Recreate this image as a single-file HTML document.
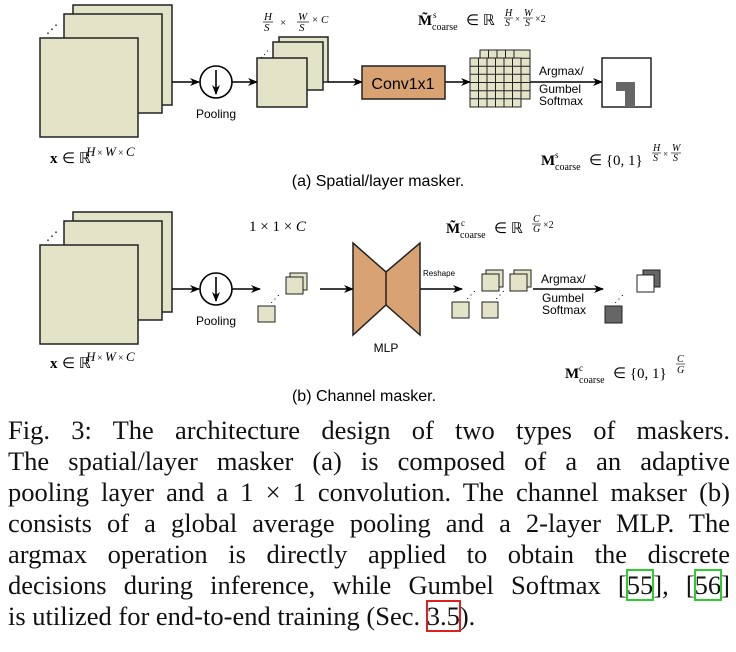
<!DOCTYPE html>
<html><head><meta charset="utf-8"><style>
body{margin:0;background:#fff;width:736px;height:652px;overflow:hidden;position:relative}
svg{position:absolute;left:0;top:0}
.cap{position:absolute;left:8px;top:415px;width:722px;font-family:"Liberation Serif",serif;font-size:26.5px;line-height:31px;color:#111}
.cap div{text-align:justify;text-align-last:justify;white-space:nowrap}
.cap div.l{text-align-last:left}
.g{outline:2px solid #2ecc2e;outline-offset:-1px}
.r{outline:2px solid #e02020;outline-offset:-1px}
</style></head><body>
<svg width="736" height="410" viewBox="0 0 736 410" font-family="Liberation Sans, sans-serif">
<defs><marker id="a" markerWidth="10" markerHeight="8" refX="9" refY="4" orient="auto" markerUnits="userSpaceOnUse"><path d="M0,0 L10,4 L0,8 L3,4z" fill="#000"/></marker></defs>
<g fill="#e3e3c8" stroke="#222" stroke-width="1.5">
<rect x="73" y="5" width="99" height="100"/><rect x="64" y="14" width="98" height="99"/><rect x="40" y="38" width="98" height="99"/>
<rect x="279" y="37" width="49" height="45"/><rect x="273" y="42" width="50" height="48"/><rect x="257" y="58" width="50" height="49"/>
</g>
<text x="46" y="33" font-size="12">⋰</text><text x="260" y="57" font-size="9">⋰</text>
<g stroke="#000" stroke-width="1.6" fill="none">
<line x1="172" y1="82" x2="199" y2="82" marker-end="url(#a)"/>
<circle cx="216" cy="82" r="16" fill="#fff"/>
<line x1="216" y1="70" x2="216" y2="94" marker-end="url(#a)"/>
<line x1="232" y1="82" x2="257" y2="82" marker-end="url(#a)"/>
<line x1="328" y1="82" x2="362" y2="82" marker-end="url(#a)"/>
<line x1="445" y1="82" x2="470" y2="82" marker-end="url(#a)"/>
<line x1="530" y1="82" x2="602" y2="82" marker-end="url(#a)"/>
</g>
<text x="216" y="118" font-size="12" text-anchor="middle">Pooling</text>
<rect x="362" y="66" width="83" height="33" fill="#d9a272" stroke="#222" stroke-width="1.5"/>
<text x="403" y="89" font-size="16" text-anchor="middle">Conv1x1</text>
<g fill="#e3e3c8" stroke="#222" stroke-width="1">
<rect x="480" y="50" width="50" height="49"/><rect x="470" y="58" width="51" height="49"/>
</g>
<g stroke="#222" stroke-width="1">
<path d="M478.5,58V107M487,58V107M495.5,58V107M504,58V107M512.5,58V107M470,66.2H521M470,74.3H521M470,82.5H521M470,90.7H521M470,98.8H521"/>
<path d="M488.5,50V58M497,50V58M505.5,50V58M514,50V58M521,58.2H530M521,66.2H530M521,74.3H530M521,82.5H530M521,90.7H530"/>
</g>
<text x="539" y="75" font-size="12">Argmax/</text><text x="539" y="93" font-size="12">Gumbel</text><text x="539" y="105" font-size="12">Softmax</text>
<rect x="602" y="58" width="49" height="49" fill="#fff" stroke="#222" stroke-width="1.5"/>
<path d="M616,82H635V107H625V91H616z" fill="#666"/>
<g font-family="Liberation Serif, serif" font-size="15">
<text x="264" y="20" font-style="italic" font-size="11">H</text><line x1="263" y1="22" x2="273" y2="22" stroke="#000" stroke-width=".7"/><text x="264" y="31" font-style="italic" font-size="11">S</text>
<text x="280" y="26" font-size="11">×</text>
<text x="298" y="20" font-style="italic" font-size="11">W</text><line x1="297" y1="22" x2="309" y2="22" stroke="#000" stroke-width=".7"/><text x="299" y="31" font-style="italic" font-size="11">S</text>
<text x="312" y="23" font-size="11">× <tspan font-style="italic">C</tspan></text>
<text x="418" y="25" font-weight="bold">M̃</text><text x="433" y="18" font-size="9">s</text><text x="432" y="30" font-size="10">coarse</text><text x="466" y="25">∈ ℝ</text>
<text x="505" y="16" font-style="italic" font-size="10">H</text><line x1="504" y1="18" x2="513" y2="18" stroke="#000" stroke-width=".6"/><text x="505" y="26" font-style="italic" font-size="10">S</text>
<text x="515" y="22" font-size="9">×</text>
<text x="524" y="16" font-style="italic" font-size="10">W</text><line x1="523" y1="18" x2="533" y2="18" stroke="#000" stroke-width=".6"/><text x="525" y="26" font-style="italic" font-size="10">S</text>
<text x="535" y="22" font-size="10">×2</text>
<text x="541" y="165" font-weight="bold">M</text><text x="555" y="158" font-size="9">s</text><text x="555" y="170" font-size="10">coarse</text><text x="589" y="165">∈ {0, 1}</text>
<text x="653" y="151" font-style="italic" font-size="10">H</text><line x1="652" y1="153" x2="661" y2="153" stroke="#000" stroke-width=".6"/><text x="653" y="161" font-style="italic" font-size="10">S</text>
<text x="663" y="157" font-size="9">×</text>
<text x="672" y="151" font-style="italic" font-size="10">W</text><line x1="671" y1="153" x2="681" y2="153" stroke="#000" stroke-width=".6"/><text x="673" y="161" font-style="italic" font-size="10">S</text>
<text x="50" y="163" font-weight="bold">x</text><text x="62" y="163">∈ ℝ</text><text x="86" y="156" font-style="italic" font-size="13">H</text><text x="97" y="156" font-size="10">×</text><text x="105" y="156" font-style="italic" font-size="13">W</text><text x="118" y="156" font-size="10">×</text><text x="126" y="156" font-style="italic" font-size="13">C</text>
</g>
<text x="378" y="186" font-size="16" text-anchor="middle">(a) Spatial/layer masker.</text>

<g fill="#e3e3c8" stroke="#222" stroke-width="1.5">
<rect x="73" y="212" width="99" height="100"/><rect x="64" y="221" width="98" height="99"/><rect x="40" y="245" width="98" height="99"/>
</g>
<text x="46" y="240" font-size="12">⋰</text>
<g stroke="#000" stroke-width="1.6" fill="none">
<line x1="172" y1="289" x2="199" y2="289" marker-end="url(#a)"/>
<circle cx="216" cy="289" r="16" fill="#fff"/>
<line x1="216" y1="277" x2="216" y2="301" marker-end="url(#a)"/>
<line x1="232" y1="289" x2="260" y2="289" marker-end="url(#a)"/>
<line x1="320" y1="289" x2="353" y2="289" marker-end="url(#a)"/>
<line x1="420" y1="289" x2="462" y2="289" marker-end="url(#a)"/>
<line x1="533" y1="289" x2="603" y2="289" marker-end="url(#a)"/>
</g>
<text x="216" y="325" font-size="12" text-anchor="middle">Pooling</text>
<g fill="#e3e3c8" stroke="#222" stroke-width="1">
<rect x="258" y="306" width="17" height="16"/><rect x="290" y="273" width="17" height="17"/><rect x="286" y="277" width="17" height="17"/>
<rect x="452" y="302" width="17" height="16"/><rect x="482" y="302" width="16" height="16"/>
<rect x="486" y="270" width="17" height="17"/><rect x="482" y="274" width="17" height="17"/>
<rect x="514" y="270" width="17" height="17"/><rect x="510" y="274" width="17" height="17"/>
</g>
<text x="270" y="302" font-size="10">⋰</text><text x="466" y="298" font-size="10">⋰</text><text x="495" y="298" font-size="10">⋰</text><text x="614" y="302" font-size="10">⋰</text>
<path d="M353,243L386,272L420,243V335L386,305L353,335z" fill="#d9a272" stroke="#222" stroke-width="1.5"/>
<line x1="386" y1="272" x2="386" y2="305" stroke="#222" stroke-width="1.5"/>
<text x="386" y="352" font-size="12" text-anchor="middle">MLP</text>
<text x="423" y="276" font-size="8">Reshape</text>
<text x="541" y="283" font-size="12">Argmax/</text><text x="542" y="302" font-size="12">Gumbel</text><text x="542" y="314" font-size="12">Softmax</text>
<rect x="605" y="306" width="17" height="17" fill="#666" stroke="#222"/>
<rect x="643" y="270" width="17" height="17" fill="#666" stroke="#222"/><rect x="637" y="275" width="17" height="17" fill="#fff" stroke="#222"/>
<g font-family="Liberation Serif, serif" font-size="15">
<text x="249" y="231">1 × 1 × <tspan font-style="italic">C</tspan></text>
<text x="446" y="233" font-weight="bold">M̃</text><text x="461" y="226" font-size="9">c</text><text x="460" y="238" font-size="10">coarse</text><text x="494" y="233">∈ ℝ</text>
<text x="533" y="222" font-style="italic" font-size="10">C</text><line x1="532" y1="224" x2="541" y2="224" stroke="#000" stroke-width=".6"/><text x="533" y="232" font-style="italic" font-size="10">G</text><text x="543" y="228" font-size="10">×2</text>
<text x="565" y="378" font-weight="bold">M</text><text x="579" y="371" font-size="9">c</text><text x="579" y="383" font-size="10">coarse</text><text x="613" y="378">∈ {0, 1}</text>
<text x="677" y="362" font-style="italic" font-size="10">C</text><line x1="676" y1="364" x2="685" y2="364" stroke="#000" stroke-width=".6"/><text x="677" y="373" font-style="italic" font-size="10">G</text>
<text x="50" y="368" font-weight="bold">x</text><text x="62" y="368">∈ ℝ</text><text x="86" y="361" font-style="italic" font-size="13">H</text><text x="97" y="361" font-size="10">×</text><text x="105" y="361" font-style="italic" font-size="13">W</text><text x="118" y="361" font-size="10">×</text><text x="126" y="361" font-style="italic" font-size="13">C</text>
</g>
<text x="364" y="401" font-size="16" text-anchor="middle">(b) Channel masker.</text>
</svg>
<div class="cap">
<div>Fig. 3: The architecture design of two types of maskers.</div>
<div>The spatial/layer masker (a) is composed of a an adaptive</div>
<div>pooling layer and a 1 × 1 convolution. The channel makser (b)</div>
<div>consists of a global average pooling and a 2-layer MLP. The</div>
<div>argmax operation is directly applied to obtain the discrete</div>
<div>decisions during inference, while Gumbel Softmax [<span class="g">55</span>], [<span class="g">56</span>]</div>
<div class="l">is utilized for end-to-end training (Sec. <span class="r">3.5</span>).</div>
</div>
</body></html>
